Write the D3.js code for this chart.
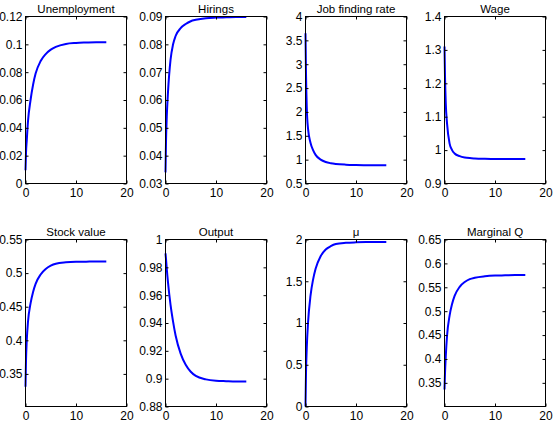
<!DOCTYPE html>
<html>
<head>
<meta charset="utf-8">
<script src="https://cdn.jsdelivr.net/npm/d3@7"></script>
<style>
  html, body { margin: 0; padding: 0; background: #fff; }
  svg { display: block; }
  text { font-family: "Liberation Sans", Arial, Helvetica, sans-serif; fill: #000; }
</style>
</head>
<body>
<svg id="chart" width="553" height="425"></svg>
<script>
// ---- data ----
const t = [0, 0.1, 0.25, 0.5, 1, 1.5, 2, 3, 4, 5, 6, 8, 10, 12, 14, 16];

const unemployment = [0.0095, 0.022, 0.031, 0.045, 0.060, 0.071, 0.079, 0.088, 0.093, 0.0962, 0.0982, 0.1003, 0.1010, 0.1013, 0.1015, 0.1015];
const hirings      = [0.034, 0.045, 0.054, 0.063, 0.0745, 0.080, 0.083, 0.0858, 0.0873, 0.0883, 0.0888, 0.0894, 0.0896, 0.0897, 0.0898, 0.0898];
const jobFinding   = [3.65, 2.8, 2.1, 1.65, 1.35, 1.2, 1.1, 1.0, 0.95, 0.925, 0.91, 0.895, 0.888, 0.884, 0.883, 0.882];
const wage         = [1.31, 1.22, 1.14, 1.08, 1.02, 1.0, 0.99, 0.982, 0.978, 0.976, 0.975, 0.974, 0.9735, 0.9732, 0.973, 0.973];
const stockValue   = [0.331, 0.37, 0.40, 0.428, 0.455, 0.472, 0.484, 0.498, 0.506, 0.511, 0.514, 0.516, 0.5168, 0.517, 0.5172, 0.5172];
const output       = [0.990, 0.986, 0.979, 0.969, 0.953, 0.941, 0.931, 0.918, 0.910, 0.905, 0.902, 0.8995, 0.8985, 0.8982, 0.898, 0.898];
const mu           = [0, 0.4, 0.7, 1.0, 1.33, 1.52, 1.65, 1.80, 1.88, 1.92, 1.945, 1.96, 1.966, 1.969, 1.97, 1.97];
const marginalQ    = [0.336, 0.37, 0.405, 0.448, 0.49, 0.515, 0.532, 0.551, 0.561, 0.567, 0.570, 0.573, 0.5745, 0.575, 0.5755, 0.5755];

const titles = ["Unemployment", "Hirings", "Job finding rate", "Wage", "Stock value", "Output", "\u03BC", "Marginal Q"];
const seriesList = [unemployment, hirings, jobFinding, wage, stockValue, output, mu, marginalQ];
const yDomains = [[0, 0.12], [0.03, 0.09], [0.5, 4], [0.9, 1.4], [0.3015, 0.55], [0.88, 1.0], [0, 2], [0.3005, 0.65]];
const yTicks = [
  [0, 0.02, 0.04, 0.06, 0.08, 0.1, 0.12],
  [0.03, 0.04, 0.05, 0.06, 0.07, 0.08, 0.09],
  [0.5, 1, 1.5, 2, 2.5, 3, 3.5, 4],
  [0.9, 1, 1.1, 1.2, 1.3, 1.4],
  [0.35, 0.4, 0.45, 0.5, 0.55],
  [0.88, 0.9, 0.92, 0.94, 0.96, 0.98, 1],
  [0, 0.5, 1, 1.5, 2],
  [0.35, 0.4, 0.45, 0.5, 0.55, 0.6, 0.65]
];
const xDomain = [0, 20];
const xTicks = [0, 10, 20];

// ---- layout ----
const lefts = [25.5, 165.5, 305.5, 444.5];
const tops = [16.5, 239.5];
const W = 101, H = 167;

const svg = d3.select("#chart");
const fmt = d => String(+d.toFixed(4));

seriesList.forEach((vals, i) => {
  const col = i % 4, row = Math.floor(i / 4);
  const g = svg.append("g").attr("transform", `translate(${lefts[col]},${tops[row]})`);
  const x = d3.scaleLinear().domain(xDomain).range([0, W]);
  const y = d3.scaleLinear().domain(yDomains[i]).range([H, 0]);

  // curve
  const line = d3.line().x((d, k) => x(t[k])).y(d => y(d)).curve(d3.curveMonotoneX);
  g.append("path").datum(vals).attr("d", line)
    .attr("fill", "none").attr("stroke", "#0000ff").attr("stroke-width", 2)
    .attr("stroke-linejoin", "round");

  // axes (MATLAB style: inward ticks on all four sides)
  const tickLen = 3;
  const bottom = d3.axisBottom(x).tickValues(xTicks).tickSize(-tickLen).tickPadding(5).tickFormat(fmt);
  const left = d3.axisLeft(y).tickValues(yTicks[i]).tickSize(-tickLen).tickPadding(3).tickFormat(fmt);
  const topAx = d3.axisTop(x).tickValues(xTicks).tickSize(-tickLen).tickFormat("");
  const rightAx = d3.axisRight(y).tickValues(yTicks[i]).tickSize(-tickLen).tickFormat("");

  const styleAxis = sel => {
    sel.selectAll(".domain").remove();
    sel.selectAll(".tick line").attr("stroke", "#000");
    sel.selectAll("text").attr("font-size", 12).attr("font-family", "Liberation Sans, Arial, sans-serif").attr("fill", "#000");
  };
  g.append("g").attr("transform", `translate(0,${H})`).call(bottom).call(styleAxis);
  g.append("g").call(left).call(styleAxis);
  g.append("g").call(topAx).call(styleAxis);
  g.append("g").attr("transform", `translate(${W},0)`).call(rightAx).call(styleAxis);

  g.append("rect").attr("x", 0).attr("y", 0).attr("width", W).attr("height", H)
    .attr("fill", "none").attr("stroke", "#000").attr("stroke-width", 1);

  // title
  g.append("text").attr("x", W / 2).attr("y", -4).attr("text-anchor", "middle")
    .attr("font-size", 11.5).text(titles[i]);
});
</script>
</body>
</html>
